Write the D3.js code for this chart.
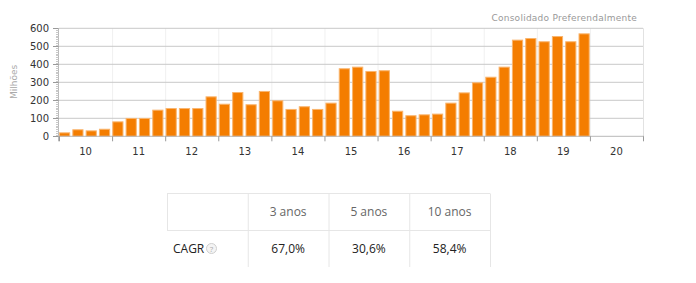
<!DOCTYPE html>
<html>
<head>
<meta charset="utf-8">
<script src="https://cdn.jsdelivr.net/npm/d3@7"></script>
<style>
  body { margin: 0; background: #fff; }
  svg { display: block; }
</style>
</head>
<body>
<div id="chart"></div>
<script>
// anos do eixo x e valores trimestrais (milhões)
const years = ['10', '11', '12', '13', '14', '15', '16', '17', '18', '19', '20'];
const quarters = ['T1', 'T2', 'T3', 'T4'];
const values = [22, 39, 33, 42, 83, 102, 102, 148, 157, 157,
                157, 222, 181, 246, 178, 252, 200, 152, 167, 152,
                187, 378, 387, 363, 367, 142, 117, 122, 126, 187,
                244, 300, 331, 387, 537, 546, 528, 557, 528, 572];
const yTicks = [0, 100, 200, 300, 400, 500, 600];
const periods = ['3 anos', '5 anos', '10 anos'];
const cagr = ['67,0%', '30,6%', '58,4%'];

let drawChart = function(){
    let svg = d3.select('#chart').append('svg')
        .attr('width', 696)
        .attr('height', 283);

    let left = 59, right = 643, top = 28.3, bottom = 136.3;

    let slots = [];
    years.forEach(y => quarters.forEach(q => slots.push(y + q)));
    let data = values.map((v, i) => ({ key: slots[i], value: v }));

    let x = d3.scaleBand().domain(slots).range([left, right])
        .paddingInner(0.16).paddingOuter(0).align(0);
    let xYear = d3.scaleBand().domain(years).range([left, right]);
    let y = d3.scaleLinear().domain([0, 600]).range([bottom, top]);

    // linhas verticais por ano
    svg.append('g')
        .selectAll('line')
        .data(years.slice(1))
        .enter().append('line')
        .attr('x1', d => xYear(d) + 0.5).attr('x2', d => xYear(d) + 0.5)
        .attr('y1', top).attr('y2', bottom)
        .attr('stroke', '#f0f0f0');

    // grade horizontal
    svg.append('g')
        .selectAll('line')
        .data(yTicks.slice(1))
        .enter().append('line')
        .attr('x1', left).attr('x2', right)
        .attr('y1', d => y(d)).attr('y2', d => y(d))
        .attr('stroke', '#c8c8c8');

    // borda direita
    svg.append('line')
        .attr('x1', right + 0.5).attr('x2', right + 0.5)
        .attr('y1', top).attr('y2', bottom)
        .attr('stroke', '#e2e2e2');

    // barras
    svg.append('g')
        .selectAll('rect')
        .data(data)
        .enter().append('rect')
        .attr('x', d => x(d.key) + 0.5)
        .attr('y', d => y(d.value) + 0.5)
        .attr('width', x.bandwidth() - 1)
        .attr('height', d => bottom - y(d.value) - 0.5)
        .attr('fill', '#f47d00')
        .attr('stroke', '#f9b56e')
        .attr('stroke-width', 1);

    // eixo x
    svg.append('line')
        .attr('x1', left).attr('x2', right + 1)
        .attr('y1', bottom).attr('y2', bottom)
        .attr('stroke', '#b8b8b8');
    svg.append('g')
        .selectAll('line')
        .data(years.concat(['end']))
        .enter().append('line')
        .attr('x1', d => d === 'end' ? right + 0.5 : xYear(d) + 0.5)
        .attr('x2', d => d === 'end' ? right + 0.5 : xYear(d) + 0.5)
        .attr('y1', bottom).attr('y2', bottom + 5)
        .attr('stroke', '#999');
    svg.append('g')
        .selectAll('text')
        .data(years)
        .enter().append('text')
        .attr('x', d => xYear(d) + xYear.bandwidth() / 2)
        .attr('y', 155)
        .attr('text-anchor', 'middle')
        .style('font', '10px "DejaVu Sans"')
        .attr('fill', '#333')
        .text(d => d);

    // eixo y
    svg.append('line')
        .attr('x1', left - 0.5).attr('x2', left - 0.5)
        .attr('y1', top).attr('y2', bottom + 5)
        .attr('stroke', '#b8b8b8');
    svg.append('g')
        .selectAll('line')
        .data(d3.range(0, 601, 10))
        .enter().append('line')
        .attr('x1', d => d % 100 === 0 ? left - 6 : left - 3)
        .attr('x2', left - 0.5)
        .attr('y1', d => Math.round(y(d)) + 0.5).attr('y2', d => Math.round(y(d)) + 0.5)
        .attr('stroke', d => d % 100 === 0 ? '#999' : '#c8c8c8');
    svg.append('g')
        .selectAll('text')
        .data(yTicks)
        .enter().append('text')
        .attr('x', 49)
        .attr('y', d => y(d) + 3.5)
        .attr('text-anchor', 'end')
        .style('font', '10px "DejaVu Sans"')
        .attr('fill', '#333')
        .text(d => d);

    svg.append('text')
        .attr('transform', 'translate(17,82) rotate(-90)')
        .attr('text-anchor', 'middle')
        .style('font', '9px "DejaVu Sans"')
        .attr('fill', '#aaa')
        .text('Milhões');

    svg.append('text')
        .attr('x', 637).attr('y', 21)
        .attr('text-anchor', 'end')
        .style('font', '9px "DejaVu Sans"')
        .style('letter-spacing', '0.25px')
        .attr('fill', '#999')
        .text('Consolidado Preferendalmente');

    // tabela CAGR
    let cols = ['label'].concat(periods);
    let cx = d3.scaleBand().domain(cols).range([167, 490]);
    let rowTop = 193.5, rowMid = 230.5, rowEnd = 267;
    let border = '#e6e6e6';

    let table = svg.append('g');
    table.append('line')
        .attr('x1', cx('label')).attr('x2', 490)
        .attr('y1', rowTop).attr('y2', rowTop).attr('stroke', border);
    table.append('line')
        .attr('x1', cx('label')).attr('x2', 490)
        .attr('y1', rowMid).attr('y2', rowMid).attr('stroke', border);
    table.append('line')
        .attr('x1', cx('label') + 0.5).attr('x2', cx('label') + 0.5)
        .attr('y1', rowTop).attr('y2', rowMid).attr('stroke', border);
    table.selectAll('line.v')
        .data(periods.concat(['end']))
        .enter().append('line')
        .attr('class', 'v')
        .attr('x1', d => (d === 'end' ? 490 : cx(d)) + 0.5)
        .attr('x2', d => (d === 'end' ? 490 : cx(d)) + 0.5)
        .attr('y1', rowTop).attr('y2', rowEnd)
        .attr('stroke', border);

    table.selectAll('text.head')
        .data(periods)
        .enter().append('text')
        .attr('class', 'head')
        .attr('x', d => cx(d) + cx.bandwidth() / 2)
        .attr('y', 216)
        .attr('text-anchor', 'middle')
        .style('font', '12px "Open Sans"')
        .attr('fill', '#666')
        .text(d => d);

    table.selectAll('text.val')
        .data(cagr)
        .enter().append('text')
        .attr('class', 'val')
        .attr('x', (d, i) => cx(periods[i]) + cx.bandwidth() / 2)
        .attr('y', 253)
        .attr('text-anchor', 'middle')
        .style('font', '12px "Open Sans"')
        .attr('fill', '#222')
        .text(d => d);

    table.append('text')
        .attr('x', 173).attr('y', 253)
        .style('font', '12px "Open Sans"')
        .attr('fill', '#222')
        .text('CAGR');
    table.append('circle')
        .attr('cx', 211.5).attr('cy', 248.5).attr('r', 5)
        .attr('fill', '#f4f4f4').attr('stroke', '#cfcfcf');
    table.append('text')
        .attr('x', 211.5).attr('y', 251.5)
        .attr('text-anchor', 'middle')
        .style('font', '8px "Open Sans"')
        .attr('fill', '#aaa')
        .text('?');
};

drawChart();
</script>
</body>
</html>
